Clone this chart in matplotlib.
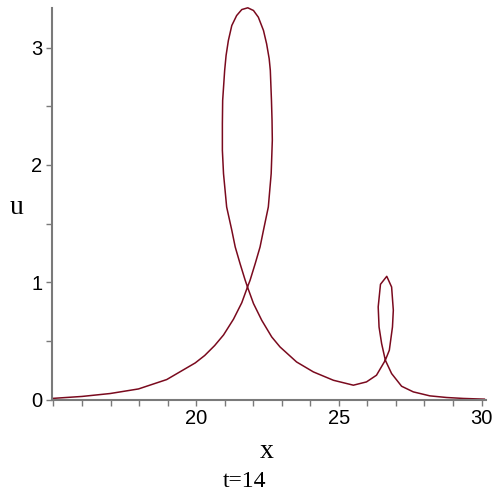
import matplotlib
matplotlib.use("Agg")
import matplotlib.pyplot as plt
from matplotlib.ticker import MultipleLocator

# Parametric curve (x, u) of the two-loop soliton at t=14
x_vals = [14.95, 16.00, 16.99, 17.98, 18.97, 19.97, 20.30, 20.65, 20.96, 21.31, 21.60, 21.80,
          21.89, 22.07, 22.24, 22.36, 22.53, 22.63, 22.67, 22.66, 22.64, 22.60, 22.56,
          22.47, 22.36, 22.18, 22.01, 21.81, 21.60, 21.42, 21.25, 21.13, 21.05, 21.00,
          20.93, 20.92, 20.92, 20.96, 21.07, 21.25, 21.37, 21.54, 21.72, 21.80,
          22.01, 22.30, 22.65, 22.94, 23.52, 24.11, 24.81, 25.51, 25.97, 26.32, 26.63,
          26.77, 26.88, 26.91, 26.85, 26.68,
          26.46, 26.38, 26.41, 26.50, 26.63,
          26.85, 27.20, 27.61, 28.19, 28.78, 29.36, 30.10]
u_vals = [0.009, 0.026, 0.051, 0.090, 0.170, 0.312, 0.375, 0.460, 0.550, 0.685, 0.825, 0.959,
          1.016, 1.158, 1.300, 1.443, 1.641, 1.925, 2.209, 2.380, 2.549, 2.805, 2.905,
          3.032, 3.146, 3.259, 3.316, 3.339, 3.324, 3.273, 3.188, 3.060, 2.933, 2.805,
          2.549, 2.350, 2.124, 1.925, 1.641, 1.443, 1.300, 1.158, 1.016, 0.959,
          0.818, 0.675, 0.533, 0.448, 0.320, 0.235, 0.164, 0.122, 0.150, 0.207, 0.335,
          0.420, 0.618, 0.761, 0.959, 1.050,
          0.982, 0.789, 0.618, 0.477, 0.335,
          0.221, 0.113, 0.065, 0.031, 0.017, 0.009, 0.003]

x_ticks = [20, 25, 30]
u_ticks = [0, 1, 2, 3]

fig = plt.figure(figsize=(5, 5), dpi=100)
ax = fig.add_axes([0.104, 0.201, 0.867, 0.782])
ax.plot(x_vals, u_vals, color="#7a0a1e", linewidth=1.1, clip_on=False)

ax.set_xlim(14.95, 30.14)
ax.set_ylim(0, 3.333)

for s in ["top", "right"]:
    ax.spines[s].set_visible(False)
for s in ["left", "bottom"]:
    ax.spines[s].set_color("#7a7a7a")
    ax.spines[s].set_linewidth(1.5)

ax.set_xticks(x_ticks)
ax.set_yticks(u_ticks)
ax.xaxis.set_minor_locator(MultipleLocator(1))
ax.yaxis.set_minor_locator(MultipleLocator(0.5))
ax.tick_params(which="both", direction="out", color="#7a7a7a", width=1.0)
ax.tick_params(which="major", length=4, labelsize=14.5, pad=3)
ax.tick_params(which="minor", length=4)
for lab in ax.get_xticklabels() + ax.get_yticklabels():
    lab.set_family("Liberation Sans")

fig.text(0.533, 0.097, "x", family="Liberation Serif", fontsize=20, ha="center", va="center")
fig.text(0.033, 0.585, "u", family="Liberation Serif", fontsize=20, ha="center", va="center")
fig.text(0.49, 0.037, "t=14", family="Liberation Serif", fontsize=17, ha="center", va="center")

fig.savefig("out.png", dpi=100)
